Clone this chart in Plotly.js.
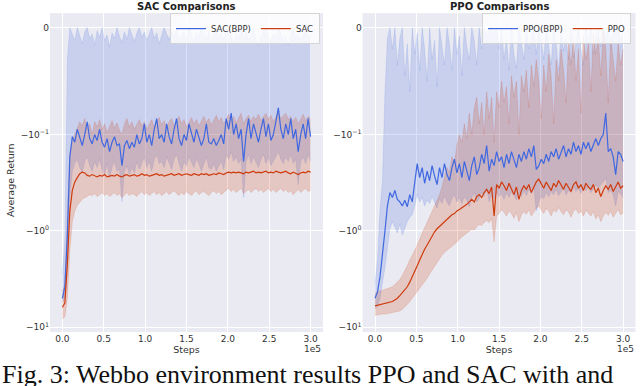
<!DOCTYPE html>
<html>
<head>
<meta charset="utf-8">
<script src="https://cdn.plot.ly/plotly-3.0.1.min.js"></script>
<style>
  html, body { margin: 0; padding: 0; background: #fff; }
  #chart { width: 640px; height: 386px; }
</style>
</head>
<body>
<div id="chart"></div>
<script>
/* Training curves, steps in units of 1e5, returns on a symlog axis */

const STEPS = [0,0.03,0.06,0.09,0.12,0.15,0.18,0.21,0.24,0.27,0.3,0.33,0.36,0.39,0.42,0.45,0.48,0.51,0.54,0.57,
  0.6,0.63,0.66,0.69,0.72,0.75,0.78,0.81,0.84,0.87,0.9,0.93,0.96,0.99,1.02,1.05,1.08,1.11,1.14,1.17,
  1.2,1.23,1.26,1.29,1.32,1.35,1.38,1.41,1.44,1.47,1.5,1.53,1.56,1.59,1.62,1.65,1.68,1.71,1.74,1.77,
  1.8,1.83,1.86,1.89,1.92,1.95,1.98,2.01,2.04,2.07,2.1,2.13,2.16,2.19,2.22,2.25,2.28,2.31,2.34,2.37,
  2.4,2.43,2.46,2.49,2.52,2.55,2.58,2.61,2.64,2.67,2.7,2.73,2.76,2.79,2.82,2.85,2.88,2.91,2.94,2.97,3.0];

/* ---------- SAC panel ---------- */
const SAC_BPP_MEAN = [-5.0,-3.8,-1.1,-0.17,-0.105,-0.12,-0.095,-0.11,-0.13,-0.1,
  -0.088,-0.11,-0.125,-0.1,-0.115,-0.095,-0.12,-0.135,-0.11,-0.15,
  -0.12,-0.105,-0.13,-0.125,-0.21,-0.13,-0.115,-0.14,-0.12,-0.135,
  -0.1,-0.125,-0.11,-0.09,-0.12,-0.1,-0.13,-0.095,-0.085,-0.11,
  -0.1,-0.12,-0.09,-0.105,-0.125,-0.095,-0.085,-0.11,-0.13,-0.1,
  -0.115,-0.09,-0.1,-0.12,-0.095,-0.105,-0.13,-0.11,-0.09,-0.12,
  -0.125,-0.11,-0.13,-0.115,-0.1,-0.125,-0.085,-0.095,-0.08,-0.1,
  -0.09,-0.11,-0.095,-0.19,-0.1,-0.085,-0.11,-0.09,-0.1,-0.12,
  -0.095,-0.085,-0.105,-0.09,-0.115,-0.1,-0.088,-0.075,-0.095,-0.11,
  -0.09,-0.1,-0.085,-0.11,-0.095,-0.15,-0.1,-0.09,-0.11,-0.085,
  -0.105];
const SAC_BPP_UPPER = [-2.8,-1.2,-0.03,0,-0.006,-0.012,0,-0.008,-0.015,-0.004,
  0,-0.01,-0.006,-0.016,-0.003,-0.009,0,-0.012,-0.007,-0.018,
  -0.005,-0.01,0,-0.008,-0.014,-0.004,-0.011,0,-0.007,-0.013,
  -0.005,0,-0.009,-0.004,-0.012,-0.006,0,-0.01,-0.005,-0.015,
  -0.008,0,-0.006,-0.011,-0.003,-0.009,0,-0.012,-0.007,-0.004,
  -0.01,0,-0.008,-0.013,-0.005,-0.009,0,-0.006,-0.011,-0.004,
  -0.014,-0.007,0,-0.01,-0.005,-0.012,-0.003,0,-0.008,-0.015,
  -0.006,-0.01,0,-0.009,-0.004,-0.012,-0.007,0,-0.011,-0.016,
  -0.008,-0.004,0,-0.009,-0.013,-0.006,-0.01,0,-0.005,-0.012,
  -0.008,-0.017,-0.006,0,-0.01,-0.005,-0.012,-0.007,0,-0.009,
  -0.006];
const SAC_BPP_LOWER = [-5.5,-5.0,-2.4,-0.45,-0.24,-0.2,-0.18,-0.22,-0.25,-0.19,
  -0.17,-0.21,-0.24,-0.19,-0.22,-0.18,-0.23,-0.26,-0.2,-0.28,
  -0.22,-0.19,-0.24,-0.23,-0.5,-0.24,-0.21,-0.26,-0.22,-0.25,
  -0.19,-0.23,-0.2,-0.17,-0.22,-0.19,-0.24,-0.18,-0.16,-0.2,
  -0.19,-0.22,-0.17,-0.2,-0.23,-0.18,-0.16,-0.2,-0.24,-0.19,
  -0.21,-0.17,-0.19,-0.22,-0.18,-0.2,-0.24,-0.2,-0.17,-0.22,
  -0.23,-0.2,-0.24,-0.21,-0.19,-0.23,-0.16,-0.18,-0.15,-0.19,
  -0.17,-0.2,-0.18,-0.45,-0.19,-0.16,-0.2,-0.17,-0.19,-0.22,
  -0.18,-0.16,-0.2,-0.17,-0.21,-0.19,-0.17,-0.15,-0.18,-0.2,
  -0.17,-0.19,-0.16,-0.2,-0.18,-0.33,-0.19,-0.17,-0.2,-0.16,
  -0.19];
const SAC_MEAN = [-6.2,-5.6,-2.2,-0.62,-0.38,-0.31,-0.28,-0.255,-0.245,-0.25,
  -0.265,-0.27,-0.26,-0.27,-0.275,-0.265,-0.27,-0.26,-0.275,-0.27,
  -0.265,-0.27,-0.26,-0.27,-0.275,-0.265,-0.26,-0.27,-0.265,-0.26,
  -0.27,-0.265,-0.255,-0.265,-0.26,-0.27,-0.265,-0.26,-0.255,-0.265,
  -0.26,-0.27,-0.265,-0.26,-0.255,-0.265,-0.26,-0.255,-0.265,-0.26,
  -0.255,-0.26,-0.265,-0.255,-0.26,-0.265,-0.255,-0.26,-0.255,-0.265,
  -0.26,-0.255,-0.26,-0.25,-0.255,-0.26,-0.25,-0.245,-0.25,-0.245,
  -0.25,-0.245,-0.25,-0.255,-0.245,-0.25,-0.245,-0.24,-0.25,-0.245,
  -0.25,-0.245,-0.24,-0.25,-0.245,-0.25,-0.24,-0.245,-0.25,-0.245,
  -0.24,-0.25,-0.255,-0.245,-0.25,-0.26,-0.25,-0.245,-0.25,-0.24,
  -0.245];
const SAC_UPPER = [-4.2,-3.6,-0.7,-0.16,-0.115,-0.1,-0.095,-0.088,-0.092,-0.085,
  -0.095,-0.09,-0.1,-0.088,-0.093,-0.086,-0.095,-0.09,-0.098,-0.092,
  -0.087,-0.094,-0.089,-0.096,-0.1,-0.09,-0.085,-0.093,-0.088,-0.095,
  -0.09,-0.086,-0.092,-0.088,-0.095,-0.09,-0.086,-0.093,-0.089,-0.084,
  -0.091,-0.087,-0.094,-0.088,-0.085,-0.092,-0.087,-0.083,-0.09,-0.086,
  -0.093,-0.088,-0.084,-0.09,-0.086,-0.092,-0.087,-0.083,-0.089,-0.085,
  -0.091,-0.086,-0.082,-0.088,-0.084,-0.09,-0.085,-0.081,-0.087,-0.083,
  -0.089,-0.084,-0.08,-0.09,-0.085,-0.082,-0.088,-0.083,-0.086,-0.081,
  -0.087,-0.083,-0.08,-0.086,-0.082,-0.088,-0.084,-0.079,-0.085,-0.082,
  -0.08,-0.086,-0.083,-0.088,-0.084,-0.09,-0.085,-0.081,-0.087,-0.083,
  -0.085];
const SAC_LOWER = [-8.2,-7.8,-5.0,-1.6,-0.8,-0.62,-0.54,-0.5,-0.47,-0.45,
  -0.44,-0.42,-0.43,-0.41,-0.44,-0.42,-0.4,-0.43,-0.41,-0.44,
  -0.42,-0.4,-0.43,-0.41,-0.45,-0.42,-0.4,-0.43,-0.41,-0.42,
  -0.44,-0.41,-0.39,-0.42,-0.4,-0.43,-0.41,-0.39,-0.42,-0.4,
  -0.43,-0.41,-0.39,-0.42,-0.4,-0.38,-0.41,-0.43,-0.4,-0.42,
  -0.39,-0.41,-0.43,-0.4,-0.38,-0.42,-0.4,-0.39,-0.41,-0.43,
  -0.4,-0.38,-0.41,-0.39,-0.42,-0.4,-0.38,-0.36,-0.39,-0.37,
  -0.4,-0.38,-0.36,-0.41,-0.39,-0.37,-0.4,-0.38,-0.36,-0.39,
  -0.37,-0.4,-0.38,-0.36,-0.39,-0.37,-0.4,-0.38,-0.36,-0.39,
  -0.37,-0.4,-0.38,-0.42,-0.39,-0.37,-0.4,-0.38,-0.36,-0.39,
  -0.38];

/* ---------- PPO panel ---------- */
const PPO_BPP_MEAN = [-5.0,-4.3,-3.0,-1.8,-1.0,-0.55,-0.4,-0.45,-0.38,-0.47,
  -0.5,-0.55,-0.48,-0.56,-0.42,-0.5,-0.3,-0.2,-0.28,-0.22,
  -0.32,-0.24,-0.3,-0.21,-0.27,-0.33,-0.22,-0.28,-0.2,-0.26,
  -0.3,-0.22,-0.18,-0.25,-0.2,-0.28,-0.19,-0.24,-0.3,-0.21,
  -0.17,-0.26,-0.22,-0.16,-0.2,-0.13,-0.24,-0.18,-0.21,-0.15,
  -0.19,-0.17,-0.22,-0.16,-0.2,-0.15,-0.18,-0.22,-0.16,-0.19,
  -0.15,-0.18,-0.14,-0.17,-0.13,-0.23,-0.21,-0.18,-0.2,-0.16,
  -0.19,-0.15,-0.17,-0.14,-0.18,-0.15,-0.13,-0.17,-0.14,-0.16,
  -0.12,-0.15,-0.13,-0.16,-0.12,-0.14,-0.12,-0.15,-0.13,-0.11,
  -0.13,-0.11,-0.1,-0.08,-0.15,-0.14,-0.17,-0.26,-0.15,-0.16,
  -0.19];
const PPO_BPP_UPPER = [-3.5,-2.0,-0.6,-0.3,-0.06,-0.01,0,-0.02,0,-0.035,
  -0.01,0,-0.045,-0.015,-0.06,0,-0.025,-0.005,-0.04,0,
  -0.02,-0.05,0,-0.03,-0.012,-0.055,0,-0.02,-0.035,0,
  -0.015,-0.04,0,-0.025,-0.008,-0.045,0,-0.018,-0.03,0,
  -0.012,-0.035,0,-0.02,0,-0.01,0,0,-0.005,0,
  -0.02,0,-0.03,-0.01,-0.04,0,-0.025,-0.038,0,-0.015,
  -0.03,0,-0.02,-0.01,0,-0.025,0,-0.012,-0.03,0,
  -0.018,-0.035,0,-0.015,-0.04,0,-0.022,-0.01,-0.03,0,
  -0.028,-0.012,0,-0.02,-0.035,0,-0.015,0,-0.025,-0.008,
  0,-0.018,0,-0.01,0,-0.02,0,-0.005,0,-0.012,
  -0.006];
const PPO_BPP_LOWER = [-6.5,-6.0,-5.0,-3.5,-2.4,-1.5,-0.95,-0.8,-0.9,-1.05,
  -0.85,-1.1,-0.95,-0.8,-0.72,-0.68,-0.55,-0.42,-0.5,-0.45,
  -0.55,-0.48,-0.52,-0.44,-0.5,-0.58,-0.46,-0.52,-0.43,-0.5,
  -0.55,-0.46,-0.42,-0.5,-0.45,-0.52,-0.44,-0.48,-0.56,-0.45,
  -0.4,-0.5,-0.46,-0.4,-0.44,-0.36,-0.5,-0.42,-0.46,-0.4,
  -0.44,-0.41,-0.47,-0.4,-0.45,-0.39,-0.43,-0.48,-0.4,-0.44,
  -0.38,-0.43,-0.37,-0.41,-0.35,-0.62,-0.5,-0.44,-0.46,-0.4,
  -0.44,-0.39,-0.42,-0.37,-0.43,-0.39,-0.36,-0.42,-0.38,-0.4,
  -0.35,-0.39,-0.36,-0.41,-0.35,-0.38,-0.35,-0.4,-0.37,-0.33,
  -0.36,-0.33,-0.31,-0.28,-0.4,-0.38,-0.42,-0.55,-0.39,-0.41,
  -0.45];
const PPO_MEAN = [-6.0,-5.9,-5.8,-5.75,-5.7,-5.6,-5.5,-5.4,-5.2,-5.0,
  -4.7,-4.4,-4.1,-3.8,-3.4,-3.0,-2.7,-2.3,-2.0,-1.75,
  -1.55,-1.4,-1.25,-1.12,-1.02,-0.95,-0.9,-0.84,-0.8,-0.75,
  -0.72,-0.68,-0.66,-0.62,-0.6,-0.57,-0.55,-0.53,-0.5,-0.47,
  -0.5,-0.44,-0.42,-0.45,-0.4,-0.37,-0.41,-0.35,-0.7,-0.33,
  -0.36,-0.31,-0.34,-0.38,-0.32,-0.36,-0.42,-0.35,-0.47,-0.38,
  -0.34,-0.37,-0.33,-0.4,-0.35,-0.31,-0.29,-0.33,-0.36,-0.31,
  -0.34,-0.38,-0.32,-0.35,-0.3,-0.34,-0.37,-0.32,-0.35,-0.39,
  -0.33,-0.31,-0.36,-0.33,-0.38,-0.32,-0.35,-0.37,-0.33,-0.4,
  -0.36,-0.44,-0.38,-0.34,-0.37,-0.33,-0.39,-0.35,-0.31,-0.36,
  -0.34];
const PPO_UPPER = [-4.4,-4.3,-4.2,-4.1,-4.0,-3.95,-3.9,-3.8,-3.6,-3.4,
  -3.2,-2.9,-2.6,-2.3,-2.0,-1.8,-1.6,-1.4,-1.2,-1.05,
  -0.92,-0.82,-0.72,-0.62,-0.55,-0.48,-0.42,-0.35,-0.28,-0.22,
  -0.25,-0.17,-0.2,-0.13,-0.1,-0.12,-0.09,-0.11,-0.08,-0.1,
  -0.075,-0.065,-0.09,-0.07,-0.1,-0.06,-0.085,-0.065,-0.12,-0.06,
  -0.075,-0.05,-0.07,-0.055,-0.09,-0.045,-0.065,-0.05,-0.1,-0.045,
  -0.06,-0.04,-0.075,-0.035,-0.055,-0.03,-0.05,-0.085,-0.035,-0.06,
  -0.025,-0.045,-0.09,-0.03,-0.05,-0.02,-0.04,-0.07,-0.015,-0.035,
  -0.01,-0.05,-0.02,-0.08,-0.008,-0.03,-0.015,-0.06,-0.005,-0.025,
  -0.01,-0.045,-0.003,-0.02,-0.07,-0.01,-0.03,-0.05,-0.015,-0.035,
  -0.02];
const PPO_LOWER = [-7.5,-7.4,-7.4,-7.3,-7.3,-7.2,-7.1,-7.0,-7.0,-6.9,
  -6.8,-6.5,-6.2,-5.8,-5.4,-5.0,-4.6,-4.3,-4.0,-3.7,
  -3.4,-3.1,-2.8,-2.55,-2.3,-2.1,-1.9,-1.78,-1.68,-1.6,
  -1.5,-1.45,-1.38,-1.3,-1.22,-1.15,-1.1,-1.05,-1.0,-0.96,
  -0.98,-0.9,-0.86,-0.88,-0.82,-0.78,-0.82,-0.74,-1.3,-0.7,
  -0.66,-0.6,-0.64,-0.7,-0.62,-0.66,-0.74,-0.64,-0.8,-0.68,
  -0.63,-0.67,-0.6,-0.7,-0.64,-0.58,-0.55,-0.6,-0.66,-0.58,
  -0.62,-0.7,-0.6,-0.64,-0.57,-0.63,-0.68,-0.6,-0.64,-0.72,
  -0.63,-0.59,-0.66,-0.62,-0.7,-0.61,-0.65,-0.7,-0.63,-0.75,
  -0.68,-0.8,-0.7,-0.64,-0.69,-0.62,-0.72,-0.66,-0.6,-0.68,
  -0.65];

const Y_TICK_VALUES = [0, -0.1, -1, -10];
const Y_TICK_TEXT = ['0', '\u221210<sup>\u22121</sup>', '\u221210<sup>0</sup>', '\u221210<sup>1</sup>'];
const X_TICKS = [0, 0.5, 1.0, 1.5, 2.0, 2.5, 3.0];

/* ---------- symlog scale (linthresh 0.1, linscale 1, base 10) ---------- */
const LINTHRESH = 0.1;
const LINSCALE_ADJ = 1 / (1 - 1 / 10);
function symlog(v) {
  const a = Math.abs(v);
  const t = a <= LINTHRESH ? (a / LINTHRESH) * LINSCALE_ADJ
                           : LINSCALE_ADJ + Math.log10(a / LINTHRESH);
  return v < 0 ? -t : t;
}
const sl = arr => arr.map(symlog);

const BLUE = '#3f68e0';
const RED  = '#cf3a0c';
const BLUE_FILL = 'rgba(65,105,225,0.2)';
const RED_FILL  = 'rgba(207,58,12,0.2)';
const BLUE_EDGE = 'rgba(65,105,225,0.22)';
const RED_EDGE  = 'rgba(207,58,12,0.25)';

function band(upper, lower, fill, edge, xa, ya) {
  return [
    { x: STEPS, y: sl(upper), xaxis: xa, yaxis: ya, type: 'scatter', mode: 'lines',
      line: { color: edge, width: 0.6 }, showlegend: false, hoverinfo: 'skip' },
    { x: STEPS, y: sl(lower), xaxis: xa, yaxis: ya, type: 'scatter', mode: 'lines',
      fill: 'tonexty', fillcolor: fill,
      line: { color: edge, width: 0.6 }, showlegend: false, hoverinfo: 'skip' },
  ];
}
function meanLine(vals, color, name, xa, ya, legend) {
  return { x: STEPS, y: sl(vals), xaxis: xa, yaxis: ya, type: 'scatter', mode: 'lines',
           line: { color: color, width: 1.2 }, name: name, legend: legend };
}

const traces = [
  ...band(SAC_BPP_UPPER, SAC_BPP_LOWER, BLUE_FILL, BLUE_EDGE, 'x', 'y'),
  ...band(SAC_UPPER, SAC_LOWER, RED_FILL, RED_EDGE, 'x', 'y'),
  meanLine(SAC_BPP_MEAN, BLUE, 'SAC(BPP)', 'x', 'y', 'legend'),
  meanLine(SAC_MEAN, RED, 'SAC', 'x', 'y', 'legend'),
  ...band(PPO_BPP_UPPER, PPO_BPP_LOWER, BLUE_FILL, BLUE_EDGE, 'x2', 'y2'),
  ...band(PPO_UPPER, PPO_LOWER, RED_FILL, RED_EDGE, 'x2', 'y2'),
  meanLine(PPO_BPP_MEAN, BLUE, 'PPO(BPP)', 'x2', 'y2', 'legend2'),
  meanLine(PPO_MEAN, RED, 'PPO', 'x2', 'y2', 'legend2'),
];

const FONT = 'DejaVu Sans, Arial, sans-serif';
const TXT = '#333';

function xAxis(domain, anchor) {
  return {
    domain: domain, anchor: anchor, range: [-0.15, 3.15],
    tickvals: X_TICKS, ticktext: X_TICKS.map(v => v.toFixed(1)),
    showgrid: true, gridcolor: '#ffffff', gridwidth: 1, zeroline: false,
    showline: false, ticks: '', tickfont: { size: 9, color: TXT, family: FONT },
    title: { text: 'Steps', font: { size: 9.5, color: TXT, family: FONT }, standoff: 3 },
  };
}
function yAxis(anchor) {
  return {
    domain: [0.14, 0.966], anchor: anchor, range: [-3.16, 0.15],
    tickvals: Y_TICK_VALUES.map(symlog), ticktext: Y_TICK_TEXT,
    showgrid: true, gridcolor: '#ffffff', gridwidth: 1, zeroline: false,
    showline: false, ticks: '', tickfont: { size: 9, color: TXT, family: FONT },
  };
}
function legendBox(xRight) {
  return {
    orientation: 'h', x: xRight, xanchor: 'right', y: 0.966, yanchor: 'top',
    traceorder: 'normal',
    bgcolor: 'rgba(255,255,255,0.8)', bordercolor: '#d4d4d4', borderwidth: 1,
    font: { size: 8.5, color: TXT, family: FONT }, itemwidth: 30,
    tracegroupgap: 0,
  };
}

const layout = {
  width: 640, height: 386,
  margin: { l: 0, r: 0, t: 0, b: 0 },
  paper_bgcolor: '#ffffff', plot_bgcolor: '#eaeaf2',
  font: { family: FONT, color: TXT },
  xaxis: xAxis([0.0781, 0.5047], 'y'),
  yaxis: yAxis('x'),
  xaxis2: xAxis([0.5666, 0.993], 'y2'),
  yaxis2: yAxis('x2'),
  legend: legendBox(0.5),
  legend2: legendBox(0.986),
  annotations: [
    { text: '<b>SAC Comparisons</b>', xref: 'paper', yref: 'paper', x: 0.2914, y: 1 - 6 / 386,
      xanchor: 'center', yanchor: 'middle', showarrow: false, font: { size: 10, color: '#222', family: FONT } },
    { text: '<b>PPO Comparisons</b>', xref: 'paper', yref: 'paper', x: 0.7798, y: 1 - 6 / 386,
      xanchor: 'center', yanchor: 'middle', showarrow: false, font: { size: 10, color: '#222', family: FONT } },
    { text: 'Average Return', xref: 'paper', yref: 'paper', x: 10 / 640, y: 1 - 180 / 386,
      xanchor: 'center', yanchor: 'middle', textangle: -90, showarrow: false,
      font: { size: 9.5, color: TXT, family: FONT } },
    { text: '1e5', xref: 'paper', yref: 'paper', x: 0.5047, y: 1 - 349 / 386,
      xanchor: 'right', yanchor: 'middle', showarrow: false, font: { size: 9, color: TXT, family: FONT } },
    { text: '1e5', xref: 'paper', yref: 'paper', x: 0.993, y: 1 - 349 / 386,
      xanchor: 'right', yanchor: 'middle', showarrow: false, font: { size: 9, color: TXT, family: FONT } },
    { text: 'Fig. 3: Webbo environment results PPO and SAC with and', xref: 'paper', yref: 'paper',
      x: 0, y: 1 - 358 / 386, xanchor: 'left', yanchor: 'top', showarrow: false,
      font: { size: 26, color: '#111', family: 'Liberation Serif, DejaVu Serif, serif' } },
  ],
};

Plotly.newPlot('chart', traces, layout, { staticPlot: true, displayModeBar: false });
</script>
</body>
</html>
